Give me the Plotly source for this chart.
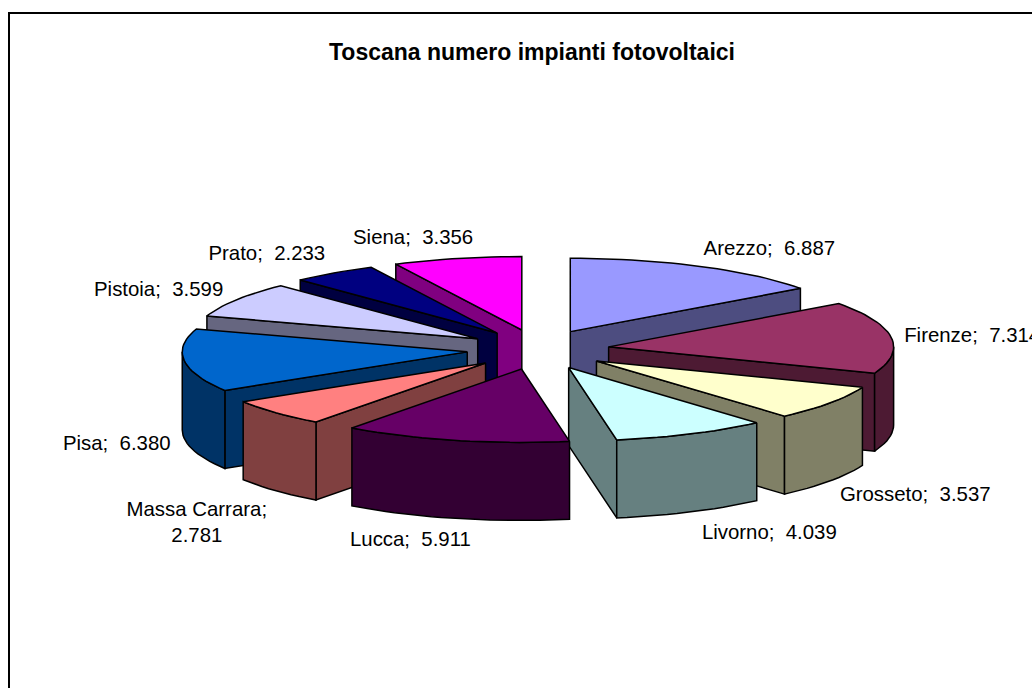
import math
import plotly.graph_objects as go

# ---- data ----
province = ["Arezzo", "Firenze", "Grosseto", "Livorno", "Lucca",
            "Massa Carrara", "Pisa", "Pistoia", "Prato", "Siena"]
impianti = [6887, 7314, 3537, 4039, 5911, 2781, 6380, 3599, 2233, 3356]
top_colors = ["#9999FF", "#993366", "#FFFFCC", "#CCFFFF", "#660066",
              "#FF8080", "#0066CC", "#CCCCFF", "#000080", "#FF00FF"]
wall_colors = ["#4D4D80", "#4D1A33", "#808066", "#668080", "#330033",
               "#804040", "#003366", "#666680", "#000040", "#800080"]
title_text = "Toscana numero impianti fotovoltaici"

# ---- projection of the tilted, exploded pie ----
W, H = 1032, 688
CX, CY = 538.0, 349.5
RX, RY = 285.0, 73.4
DEPTH = 78.0
EXPLODE_X, EXPLODE_Y = 0.25, 0.273
# label shift from the middle of each slice's outer arc
LABEL_SHIFT = [(70, -16), (81, 0), (85, 93), (78, 100), (-45, 101),
               (-79, 111), (-67.5, 84), (-78, -9), (-67, -18), (-44, -20)]


def pt(deg, ox, oy):
    a = math.radians(deg)
    return ox + RX * math.sin(a), oy - RY * math.cos(a)


def origin(deg):
    a = math.radians(deg)
    return CX + EXPLODE_X * RX * math.sin(a), CY - EXPLODE_Y * RY * math.cos(a)


def arc(a0, a1, ox, oy):
    n = max(2, int(abs(a1 - a0) / 2) + 1)
    return [pt(a0 + (a1 - a0) * i / (n - 1), ox, oy) for i in range(n)]


def poly(points, color):
    xs = [p[0] for p in points] + [points[0][0]]
    ys = [p[1] for p in points] + [points[0][1]]
    return go.Scatter(x=xs, y=ys, mode="lines", fill="toself", fillcolor=color,
                      line=dict(color="#000000", width=1.5),
                      hoverinfo="skip", showlegend=False)


total = sum(impianti)
slices = []
running = 0
for name, val, top, wall in zip(province, impianti, top_colors, wall_colors):
    a0 = running / total * 360
    running += val
    a1 = running / total * 360
    slices.append(dict(name=name, val=val, top=top, wall=wall, a0=a0, a1=a1,
                       mid=(a0 + a1) / 2))

fig = go.Figure()
for s in sorted(slices, key=lambda s: -math.cos(math.radians(s["mid"]))):
    ox, oy = origin(s["mid"])
    down = lambda pts: [(x, y + DEPTH) for x, y in pts]
    # radial cut walls facing the viewer
    for a, visible in ((s["a0"], math.sin(math.radians(s["a0"])) < 0),
                       (s["a1"], math.sin(math.radians(s["a1"])) > 0)):
        if visible:
            edge = [(ox, oy), pt(a, ox, oy)]
            fig.add_trace(poly(edge + down(edge)[::-1], s["wall"]))
    # outer curved wall
    lo, hi = max(s["a0"], 90), min(s["a1"], 270)
    if hi > lo:
        rim = arc(lo, hi, ox, oy)
        fig.add_trace(poly(rim + down(rim)[::-1], s["wall"]))
    # top face
    fig.add_trace(poly([(ox, oy)] + arc(s["a0"], s["a1"], ox, oy), s["top"]))

# labels
lab_x, lab_y, lab_t = [], [], []
for s, shift in zip(slices, LABEL_SHIFT):
    ox, oy = origin(s["mid"])
    x, y = pt(s["mid"], ox, oy)
    lab_x.append(x + shift[0])
    lab_y.append(y + shift[1])
    num = f"{s['val']:,}".replace(",", ".")
    sep = ";<br>" if s["name"] == "Massa Carrara" else ";\u00a0\u00a0"
    lab_t.append(s["name"] + sep + num)
fig.add_trace(go.Scatter(x=lab_x, y=lab_y, text=lab_t, mode="text",
                         textposition="middle center", cliponaxis=False,
                         textfont=dict(family="Liberation Sans", size=20.4, color="#000000"),
                         hoverinfo="skip", showlegend=False))

fig.update_layout(
    width=W, height=H, margin=dict(l=0, r=0, t=0, b=0, pad=0),
    paper_bgcolor="#FFFFFF", plot_bgcolor="#FFFFFF", showlegend=False,
    xaxis=dict(range=[0, W], visible=False, fixedrange=True),
    yaxis=dict(range=[H, 0], visible=False, fixedrange=True),
    shapes=[dict(type="rect", xref="x", yref="y", x0=9, y0=13, x1=W + 20, y1=H + 20,
                 line=dict(color="#000000", width=2), layer="below")],
    annotations=[dict(text="<b>" + title_text + "</b>", x=531.5, y=52, xref="x", yref="y",
                      showarrow=False, xanchor="center", yanchor="middle",
                      font=dict(family="Liberation Sans", size=23, color="#000000"))],
)
fig.write_html("out.html", config=dict(displayModeBar=False),
               post_script="document.body.style.margin='0';document.body.style.overflow='hidden';")
